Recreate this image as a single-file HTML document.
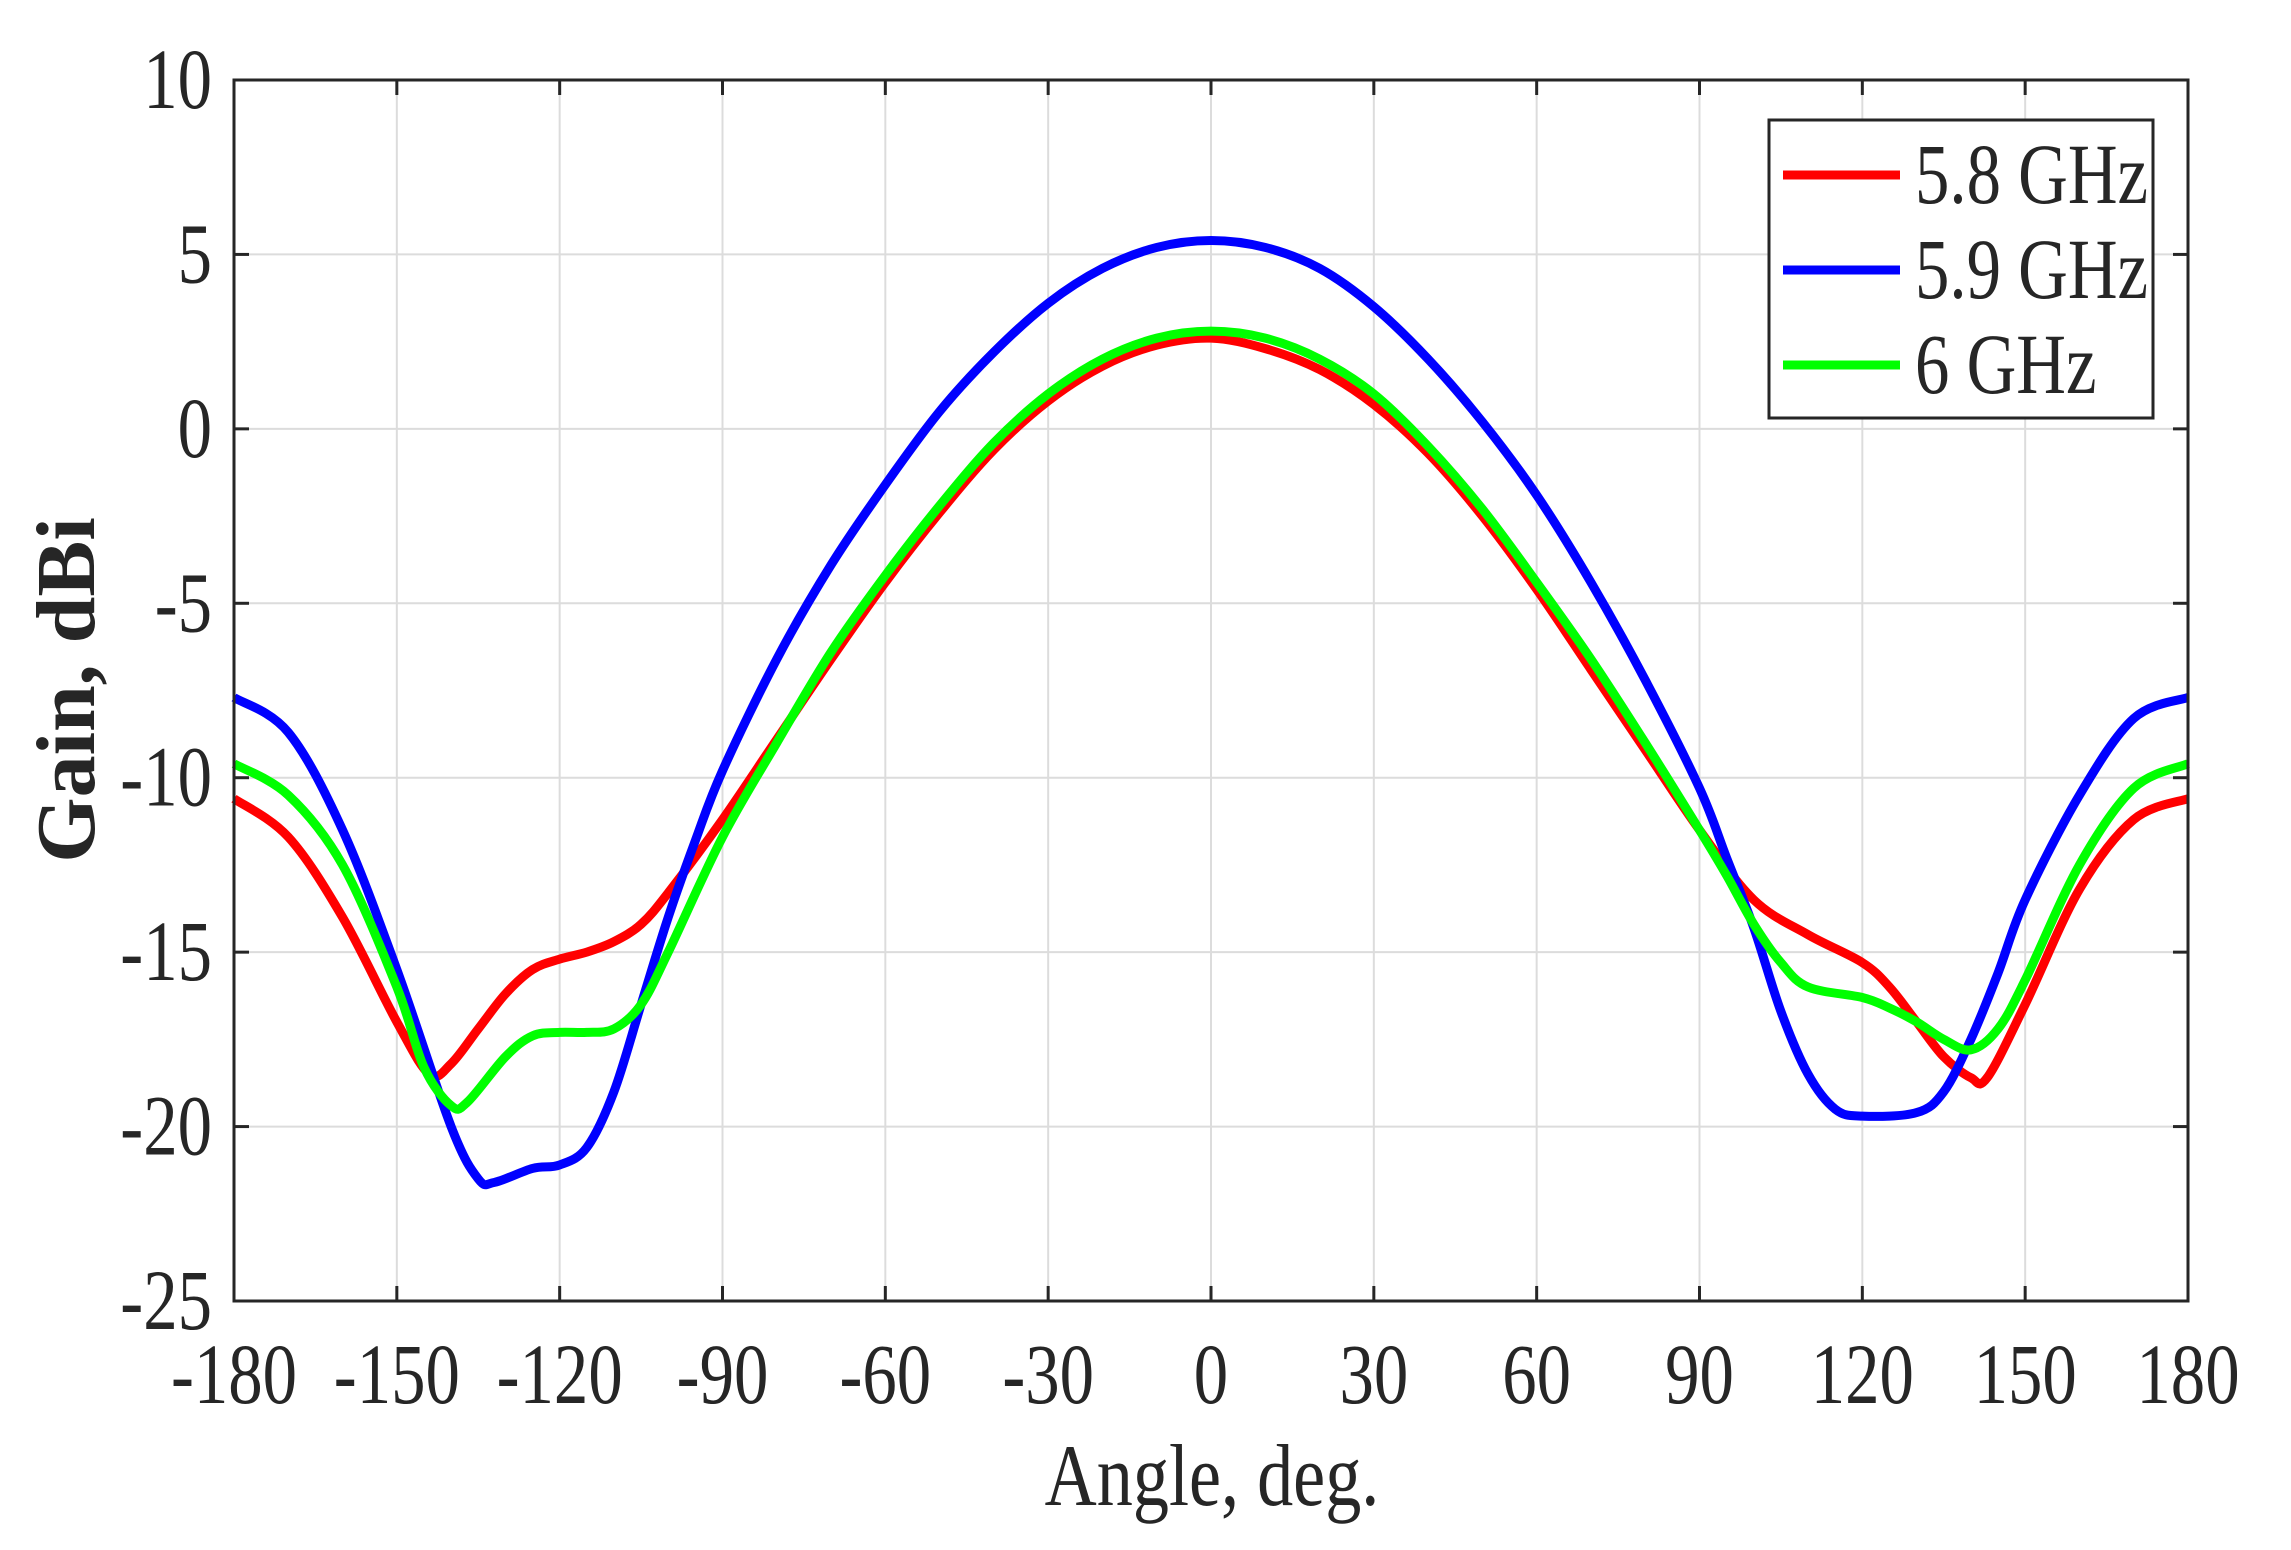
<!DOCTYPE html>
<html><head><style>
html,body{margin:0;padding:0;background:#fff;}
svg{display:block;}
text{font-family:"Liberation Serif",serif;fill:#262626;}
</style></head><body>
<svg id="s" width="2291" height="1550" xmlns="http://www.w3.org/2000/svg">
<rect width="2291" height="1550" fill="#fff"/>
<g id="grid"></g>
<g id="curves"></g>
<rect x="234" y="80" width="1954" height="1221" fill="none" stroke="#262626" stroke-width="3"/>
<g id="ticks"></g>
<g id="labels" font-size="86"></g>
<text transform="translate(1212,1505) scale(0.82,1)" text-anchor="middle" font-size="88">Angle, deg.</text>
<text transform="translate(94,690) rotate(-90)" text-anchor="middle" font-size="84" font-weight="bold">Gain, dBi</text>
<rect x="1769" y="120" width="384" height="298" fill="#fff" stroke="#262626" stroke-width="3"/>
<line x1="1783" y1="175" x2="1900" y2="175" stroke="#ff0000" stroke-width="9"/>
<line x1="1783" y1="270" x2="1900" y2="270" stroke="#0000ff" stroke-width="9"/>
<line x1="1783" y1="365" x2="1900" y2="365" stroke="#00ff00" stroke-width="9"/>
<text transform="translate(1915,203) scale(0.8,1)" font-size="86">5.8 GHz</text>
<text transform="translate(1915,298) scale(0.8,1)" font-size="86">5.9 GHz</text>
<text transform="translate(1915,393) scale(0.8,1)" font-size="86">6 GHz</text>
</svg>
<script>
var NS="http://www.w3.org/2000/svg";
var L=234,Rr=2188,T=80,Bt=1301;
function X(d){return L+(d+180)*(Rr-L)/360;}
function Y(v){return T+(10-v)*(Bt-T)/35;}
function el(p,t,a,txt){var e=document.createElementNS(NS,t);for(var k in a)e.setAttribute(k,a[k]);if(txt!=null)e.textContent=txt;document.getElementById(p).appendChild(e);return e;}
for(var d=-150;d<180;d+=30){el("grid","line",{x1:X(d),x2:X(d),y1:T,y2:Bt,stroke:"#dcdcdc","stroke-width":2});}
for(var v=5;v>-25;v-=5){el("grid","line",{x1:L,x2:Rr,y1:Y(v),y2:Y(v),stroke:"#dcdcdc","stroke-width":2});}
for(var d=-180;d<=180;d+=30){var x=X(d);
el("ticks","line",{x1:x,x2:x,y1:Bt,y2:Bt-15,stroke:"#262626","stroke-width":3});
el("ticks","line",{x1:x,x2:x,y1:T,y2:T+15,stroke:"#262626","stroke-width":3});
el("labels","text",{transform:"translate("+x+",1403) scale(0.8,1)","text-anchor":"middle"},String(d));}
for(var v=10;v>=-25;v-=5){var y=Y(v);
el("ticks","line",{x1:L,x2:L+15,y1:y,y2:y,stroke:"#262626","stroke-width":3});
el("ticks","line",{x1:Rr,x2:Rr-15,y1:y,y2:y,stroke:"#262626","stroke-width":3});
el("labels","text",{transform:"translate(212,"+(y+28)+") scale(0.8,1)","text-anchor":"end"},String(v));}
var R=[[-180,-10.6],[-170,-11.7],[-160,-14],[-150,-17],[-144,-18.5],[-140,-18.2],[-135,-17.2],[-130,-16.2],[-125,-15.5],[-120,-15.2],[-115,-15],[-110,-14.7],[-105,-14.2],[-100,-13.3],[-90,-11.2],[-80,-8.9],[-70,-6.6],[-60,-4.4],[-50,-2.4],[-40,-0.6],[-30,0.8],[-20,1.8],[-10,2.4],[0,2.6],[10,2.3],[20,1.7],[30,0.7],[40,-0.7],[50,-2.5],[60,-4.6],[70,-6.9],[80,-9.2],[90,-11.5],[100,-13.5],[110,-14.5],[120,-15.3],[125,-16],[130,-17],[135,-18],[140,-18.6],[143,-18.6],[150,-16.5],[160,-13.2],[170,-11.2],[180,-10.6]];
var B=[[-180,-7.7],[-170,-8.7],[-160,-11.5],[-150,-15.5],[-140,-20],[-135,-21.5],[-132,-21.6],[-125,-21.2],[-120,-21.1],[-115,-20.6],[-110,-19],[-105,-16.5],[-100,-14],[-95,-11.8],[-90,-9.8],[-80,-6.6],[-70,-3.9],[-60,-1.6],[-50,0.5],[-40,2.2],[-30,3.6],[-20,4.6],[-10,5.2],[0,5.4],[10,5.2],[20,4.6],[30,3.5],[40,2],[50,0.2],[60,-1.9],[70,-4.4],[80,-7.2],[90,-10.3],[95,-12.3],[100,-14.3],[105,-16.7],[110,-18.5],[115,-19.5],[120,-19.7],[130,-19.6],[135,-19],[140,-17.5],[145,-15.6],[150,-13.5],[160,-10.5],[170,-8.3],[180,-7.7]];
var G=[[-180,-9.6],[-170,-10.5],[-160,-12.5],[-150,-16],[-145,-18.3],[-140,-19.4],[-137,-19.3],[-130,-18],[-125,-17.4],[-120,-17.3],[-115,-17.3],[-110,-17.2],[-105,-16.5],[-100,-15],[-90,-11.7],[-80,-9],[-70,-6.4],[-60,-4.2],[-50,-2.2],[-40,-0.4],[-30,1],[-20,2],[-10,2.6],[0,2.8],[10,2.6],[20,2],[30,1],[40,-0.5],[50,-2.3],[60,-4.4],[70,-6.6],[80,-9],[90,-11.5],[95,-12.8],[100,-14.2],[105,-15.3],[110,-16],[120,-16.3],[125,-16.6],[130,-17],[135,-17.5],[140,-17.8],[145,-17.2],[150,-15.8],[160,-12.5],[170,-10.3],[180,-9.6]];
function path(pts){var p=pts.map(function(a){return [X(a[0]),Y(a[1])];});var d="M"+p[0][0]+","+p[0][1];
for(var i=0;i<p.length-1;i++){var p0=p[Math.max(0,i-1)],p1=p[i],p2=p[i+1],p3=p[Math.min(p.length-1,i+2)];
d+=" C"+(p1[0]+(p2[0]-p0[0])/6)+","+(p1[1]+(p2[1]-p0[1])/6)+" "+(p2[0]-(p3[0]-p1[0])/6)+","+(p2[1]-(p3[1]-p1[1])/6)+" "+p2[0]+","+p2[1];}return d;}
[[R,"#ff0000"],[B,"#0000ff"],[G,"#00ff00"]].forEach(function(c){el("curves","path",{d:path(c[0]),fill:"none",stroke:c[1],"stroke-width":9,"stroke-linejoin":"round"});});
</script>
</body></html>
